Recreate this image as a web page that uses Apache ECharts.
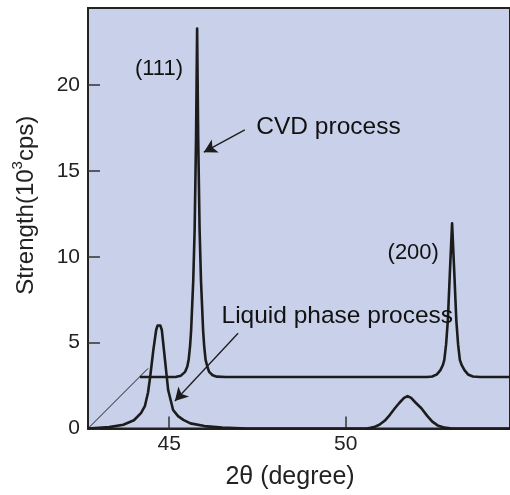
<!DOCTYPE html>
<html>
<head>
<meta charset="utf-8">
<script src="https://cdn.jsdelivr.net/npm/echarts@6/dist/echarts.min.js"></script>
<style>
  html, body { margin: 0; padding: 0; background: #fff; }
  #main { width: 510px; height: 495px; }
</style>
</head>
<body>
<div id="main"></div>
<script>
// CVD process: baseline at 3, (111) and (200) peaks
const cvdX = [44.17, 45.0, 45.2, 45.33, 45.45, 45.51, 45.55, 45.59, 45.62, 45.68, 45.72, 45.76, 45.79, 45.82, 45.86, 45.90, 45.96, 45.99, 46.03, 46.08, 46.13, 46.23, 46.35, 46.6,
  52.3, 52.45, 52.58, 52.68, 52.75, 52.79, 52.84, 52.89, 52.95, 53.01, 53.07, 53.13, 53.18, 53.23, 53.28, 53.36, 53.46, 53.6, 53.8, 54.65];
const cvdY = [3, 3, 3.01, 3.08, 3.3, 3.6, 4.0, 4.8, 5.7, 8.6, 11.6, 17.0, 23.3, 17.0, 11.6, 8.6, 5.7, 4.8, 4.0, 3.6, 3.3, 3.1, 3.02, 3,
  3, 3.03, 3.15, 3.4, 3.7, 4.0, 4.9, 6.3, 9.2, 11.96, 9.2, 6.3, 4.9, 4.0, 3.7, 3.4, 3.15, 3.03, 3, 3];

// Liquid phase process
const liqX = [42.7, 43.3, 43.7, 44.0, 44.2, 44.31, 44.4, 44.46, 44.55, 44.63, 44.67, 44.71, 44.75, 44.79, 44.88, 44.97, 45.11, 45.25, 45.4, 45.6, 46.0, 46.5, 47.2,
  50.6, 50.8, 50.95, 51.1, 51.25, 51.39, 51.52, 51.65, 51.75, 51.85, 51.98, 52.14, 52.3, 52.45, 52.6, 52.8, 53.0, 54.65];
const liqY = [0, 0.08, 0.22, 0.48, 0.9, 1.3, 2.1, 3.0, 4.57, 5.74, 6.0, 6.09, 6.0, 5.74, 4.0, 2.24, 1.08, 0.72, 0.5, 0.3, 0.14, 0.05, 0,
  0, 0.08, 0.22, 0.45, 0.8, 1.18, 1.5, 1.78, 1.89, 1.78, 1.5, 1.18, 0.75, 0.4, 0.18, 0.05, 0, 0];

// thin leader line from the origin
const leaderX = [42.7, 44.4];
const leaderY = [0, 3.5];

const xTicks = [45, 50];
const yTicks = [0, 5, 10, 15, 20];

const noteText = ['(111)', '(200)', 'CVD process', 'Liquid phase process'];
const noteX = [44.71, 51.91, 49.51, 49.76];
const noteY = [20.95, 10.23, 17.57, 6.56];

// arrows: [fromX, fromY, toX, toY]
const arrows = [
  [47.14, 17.4, 45.98, 16.1],
  [46.95, 5.55, 45.16, 1.6]
];

const zip = (xs, ys) => xs.map((x, i) => [x, ys[i]]);

const font = '"Liberation Sans", Arial, sans-serif';
const ink = '#1c1c1c';

const chart = echarts.init(document.getElementById('main'), null, { renderer: 'canvas' });

chart.setOption({
  animation: false,
  backgroundColor: '#fff',
  grid: {
    left: 88, top: 8, right: -3, bottom: 66.5,
    show: true,
    backgroundColor: '#c9d1ea',
    borderColor: '#222',
    borderWidth: 2
  },
  xAxis: {
    type: 'value',
    min: 42.7,
    max: 54.65,
    splitLine: { show: false },
    axisLine: { show: true, onZero: false, lineStyle: { color: '#222', width: 2 } },
    axisTick: { show: true, inside: true, length: 12, customValues: xTicks, lineStyle: { color: '#333', width: 1.5 } },
    axisLabel: { customValues: xTicks, margin: 5, color: '#222', fontSize: 21, fontFamily: font },
    name: '2\u03B8 (degree)',
    nameLocation: 'middle',
    nameGap: 36,
    nameTextStyle: { color: '#222', fontSize: 25, fontFamily: font, padding: [0, 18, 0, 0] }
  },
  yAxis: {
    type: 'value',
    min: 0,
    max: 24.5,
    interval: 5,
    splitLine: { show: false },
    axisLine: { show: true, lineStyle: { color: '#222', width: 2 } },
    axisTick: { show: true, inside: true, length: 12, customValues: yTicks, lineStyle: { color: '#333', width: 1.5 } },
    axisLabel: { customValues: yTicks, margin: 8, color: '#222', fontSize: 21, fontFamily: font },
    name: '{a|Strength(10}{s|3}{a|cps)}',
    nameLocation: 'middle',
    nameRotate: 90,
    nameGap: 50,
    nameTextStyle: {
      color: '#222', fontFamily: font, padding: [0, 0, 0, 26],
      rich: {
        a: { fontSize: 24, fontFamily: font, color: '#222', lineHeight: 28, verticalAlign: 'bottom' },
        s: { fontSize: 15, fontFamily: font, color: '#222', lineHeight: 28, verticalAlign: 'top' }
      }
    }
  },
  series: [
    {
      name: 'CVD process',
      type: 'line',
      data: zip(cvdX, cvdY),
      showSymbol: false,
      lineStyle: { color: ink, width: 2.6, join: 'round' },
      z: 3
    },
    {
      name: 'Liquid phase process',
      type: 'line',
      data: zip(liqX, liqY),
      showSymbol: false,
      lineStyle: { color: ink, width: 2.6, join: 'round' },
      z: 3
    },
    {
      name: 'leader',
      type: 'line',
      data: zip(leaderX, leaderY),
      showSymbol: false,
      lineStyle: { color: ink, width: 1 },
      markLine: {
        silent: true,
        symbol: ['none', 'arrow'],
        symbolSize: [11, 13],
        label: { show: false },
        lineStyle: { color: ink, width: 1.3, type: 'solid' },
        data: arrows.map(a => [{ coord: [a[0], a[1]] }, { coord: [a[2], a[3]] }])
      }
    },
    {
      name: 'notes',
      type: 'scatter',
      symbolSize: 0,
      itemStyle: { opacity: 1 },
      data: noteText.map((t, i) => ({
        value: [noteX[i], noteY[i]],
        name: t,
        label: { fontSize: i < 2 ? 22 : 24.5 }
      })),
      label: {
        show: true,
        position: 'inside',
        formatter: '{b}',
        color: '#111',
        opacity: 1,
        fontFamily: font,
        align: 'center',
        verticalAlign: 'middle'
      },
      z: 5
    }
  ]
});
</script>
</body>
</html>
